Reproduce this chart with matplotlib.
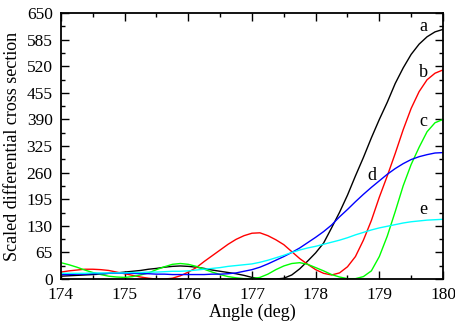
import matplotlib
matplotlib.use("Agg")
import matplotlib.pyplot as plt
from matplotlib.ticker import MultipleLocator

angle = [174.0, 174.125, 174.25, 174.375, 174.5, 174.625, 174.75, 174.875,
         175.0, 175.125, 175.25, 175.375, 175.5, 175.625, 175.75, 175.875,
         176.0, 176.125, 176.25, 176.375, 176.5, 176.625, 176.75, 176.875,
         177.0, 177.125, 177.25, 177.375, 177.5, 177.625, 177.75, 177.875,
         178.0, 178.125, 178.25, 178.375, 178.5, 178.625, 178.75, 178.875,
         179.0, 179.125, 179.25, 179.375, 179.5, 179.625, 179.75, 179.875, 180.0]

curve_a = [7, 8, 9, 10, 11, 12, 14, 15,
           17, 19, 21, 24, 26, 29, 31, 32,
           31, 29, 26, 22, 19, 16, 13, 9,
           4, 1, 0, 0, 2, 10, 25, 44,
           64, 88, 125, 163, 205, 252, 297, 345,
           390, 432, 478, 516, 549, 574, 592, 604, 610]
curve_b = [17, 20, 22, 24, 24, 23, 21, 17,
           13, 9, 5, 2, 0, 0, 2, 8,
           17, 28, 43, 57, 71, 85, 97, 106,
           112, 113, 106, 96, 84, 67, 50, 36,
           23, 14, 10, 15, 30, 55, 95, 143,
           200, 252, 307, 365, 417, 458, 487, 503, 511]
curve_c = [40, 35, 29, 22, 16, 11, 7, 5,
           4, 6, 10, 15, 23, 30, 36, 38,
           36, 31, 24, 17, 11, 6, 3, 1,
           1, 4, 12, 23, 32, 38, 40, 36,
           28, 20, 11, 5, 1, 1, 6, 20,
           55, 105, 165, 228, 280, 322, 360, 382, 390]
curve_d = [11, 11, 12, 12, 13, 13, 14, 14,
           14, 14, 13, 13, 12, 12, 11, 11,
           11, 11, 11, 12, 12, 13, 15, 19,
           23, 29, 37, 46, 55, 65, 76, 89,
           102, 116, 132, 152, 170, 189, 207, 224,
           240, 256, 270, 282, 292, 299, 304, 308, 309]
curve_e = [14, 14, 14, 14, 15, 15, 15, 15,
           15, 16, 16, 17, 17, 18, 19, 19,
           20, 22, 24, 26, 28, 31, 33, 35,
           37, 41, 46, 52, 58, 65, 71, 76,
           80, 85, 90, 95, 101, 108, 114, 120,
           125, 129, 133, 137, 140, 142, 144, 145, 146]

series = [("a", curve_a, "black"), ("b", curve_b, "red"), ("c", curve_c, "#00ff00"),
          ("d", curve_d, "blue"), ("e", curve_e, "cyan")]
label_pos = {"a": (179.69, 617), "b": (179.69, 505), "c": (179.69, 384),
             "d": (178.88, 254), "e": (179.69, 169)}

plt.rcParams['font.family'] = ['Liberation Serif', 'DejaVu Serif']

fig = plt.figure(figsize=(4.55, 3.26), dpi=100)
ax = fig.add_axes([0.134, 0.144, 0.8396, 0.816])

for name, ys, col in series:
    ax.plot(angle, ys, color=col, lw=1.0)
    lx, ly = label_pos[name]
    ax.text(lx, ly, name, ha='center', va='center', fontsize=13)

ax.set_xlim(174, 180)
ax.set_ylim(0, 650)
ax.xaxis.set_major_locator(MultipleLocator(1))
ax.xaxis.set_minor_locator(MultipleLocator(0.5))
ax.yaxis.set_major_locator(MultipleLocator(65))
ax.yaxis.set_minor_locator(MultipleLocator(32.5))
ax.tick_params(which='both', direction='in', top=True, right=True, labelsize=12.5)
ax.tick_params(which='major', length=6, width=1)
ax.tick_params(which='minor', length=3, width=1)
ax.tick_params(axis='y', pad=6)
ax.tick_params(axis='x', pad=6)
for s in ax.spines.values():
    s.set_linewidth(1.3)

ax.set_xlabel("Angle (deg)", fontsize=13, labelpad=0)
ax.set_ylabel("Scaled differential cross section", fontsize=13, labelpad=4)

fig.savefig("out.png", dpi=100)
